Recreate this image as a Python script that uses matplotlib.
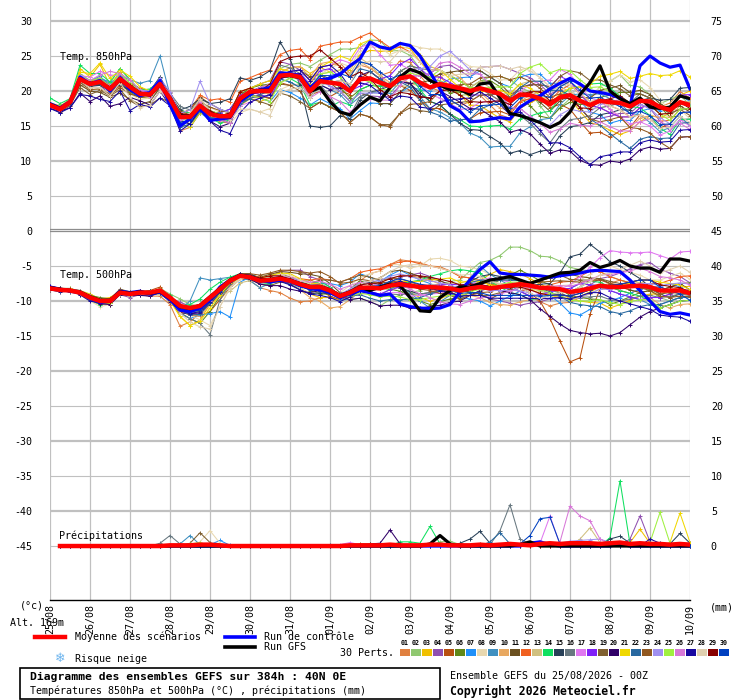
import numpy as np
import matplotlib
matplotlib.use("Agg")
from matplotlib import pyplot as plt
from matplotlib.lines import Line2D
from matplotlib.patches import Rectangle

W, H = 740, 700
MONO = "DejaVu Sans Mono"

# 6-hourly steps of the 384h run
hours = list(range(0, 385, 6))
day_labels = ["25/08", "26/08", "27/08", "28/08", "29/08", "30/08", "31/08", "01/09",
              "02/09", "03/09", "04/09", "05/09", "06/09", "07/09", "08/09", "09/09", "10/09"]

member_colors = ["#e08040", "#90c870", "#f0c000", "#9050b0", "#b85010", "#608818",
                 "#2090f8", "#e8d8b0", "#4090c0", "#e8a860", "#6b5020", "#f06020",
                 "#d0c080", "#10e060", "#284058", "#687880", "#e078f0", "#8020f8",
                 "#806030", "#300068", "#f0d800", "#2868a0", "#905820", "#a090f0",
                 "#a0f040", "#d878d8", "#1808a0", "#e0d0b0", "#880000", "#0040c0"]

# temperatures below are in tenths of a degree C
mean_850 = [180, 174, 184, 217, 210, 213, 203, 217, 206, 196, 195, 210, 189, 163, 163,
            179, 167, 164, 164, 189, 199, 200, 200, 222, 223, 220, 200, 214, 212, 210,
            200, 217, 218, 212, 207, 218, 221, 212, 205, 210, 207, 204, 200, 204, 200,
            196, 186, 195, 194, 189, 181, 191, 194, 186, 180, 186, 184, 183, 178, 186,
            185, 177, 173, 184, 180]
ctrl_850 = [182, 176, 185, 220, 210, 215, 200, 218, 202, 193, 198, 215, 180, 150, 160,
            175, 158, 160, 162, 185, 195, 202, 205, 226, 225, 222, 205, 216, 218, 224,
            236, 246, 270, 263, 260, 268, 265, 250, 227, 203, 179, 171, 156, 157, 160,
            162, 160, 177, 186, 193, 203, 211, 218, 210, 200, 198, 195, 190, 179, 236,
            250, 240, 234, 237, 203]
gfs_850 = [181, 175, 183, 216, 211, 212, 204, 216, 207, 197, 194, 209, 190, 165, 164,
           178, 168, 165, 163, 188, 198, 201, 201, 221, 222, 219, 199, 205, 185, 170,
           166, 180, 191, 186, 205, 220, 231, 226, 215, 208, 202, 202, 195, 210, 212,
           190, 168, 165, 160, 155, 148, 155, 170, 195, 212, 236, 200, 189, 182, 190,
           177, 175, 177, 193, 189]

p01_850 = [183,176,184,222,214,219,207,227,211,198,195,205,192,143,148,169,162,156,154,184,191,190,195,222,228,230,215,234,237,240,225,237,233,222,227,243,241,222,205,200,187,179,185,194,180,166,161,175,184,189,191,206,214,196,180,176,169,163,163,176,180,177,183,199,190]
p02_850 = [180,177,186,225,215,218,211,232,216,201,200,220,189,158,163,184,167,169,174,194,204,210,205,232,238,240,235,244,252,260,260,262,273,272,257,258,251,232,215,215,207,194,195,214,220,221,216,205,199,179,161,176,189,191,190,206,214,223,208,206,195,182,188,194,180]
p03_850 = [177,174,186,232,220,238,208,227,206,191,190,210,179,158,168,189,172,164,159,179,189,185,190,227,233,235,225,234,227,230,230,252,258,257,257,263,261,242,225,220,207,194,180,179,170,161,156,175,184,189,186,191,189,171,155,151,144,138,143,156,165,162,168,194,200]
p04_850 = [182,175,181,212,207,208,195,214,196,191,192,205,181,153,158,176,167,159,156,189,204,210,215,242,238,230,215,219,207,200,185,197,193,192,192,208,221,222,225,235,237,229,220,234,235,236,231,225,219,209,196,201,194,176,160,161,164,168,168,181,175,157,143,159,160]
p05_850 = [178,174,186,214,205,213,198,207,201,193,197,210,194,173,168,184,170,164,169,199,204,200,195,212,208,210,195,199,192,200,195,217,228,217,207,208,201,187,175,175,167,159,160,169,170,171,166,185,189,189,176,181,174,156,140,141,134,143,148,166,160,147,153,169,170]
p06_850 = [180,177,184,219,210,210,203,212,198,191,192,205,179,158,153,169,162,161,164,194,204,208,210,227,223,215,200,224,217,205,190,202,208,207,212,228,236,232,215,210,197,199,205,214,215,206,191,190,179,164,161,176,184,181,180,191,194,198,198,196,190,177,163,164,150]
p07_850 = [182,174,182,222,213,218,213,217,211,204,200,218,194,153,148,169,159,159,164,189,194,190,185,202,198,190,180,189,182,175,160,172,183,182,182,198,206,202,200,210,217,219,220,229,220,211,206,220,224,224,211,211,204,186,170,166,154,158,158,171,175,172,178,194,185]
p08_850 = [178,171,179,207,202,203,198,202,196,188,190,200,184,168,173,194,177,169,154,169,174,170,175,202,208,210,200,224,232,240,235,257,263,262,252,258,266,262,260,260,252,244,235,234,225,216,216,230,234,219,206,211,204,186,190,206,214,223,213,216,205,187,173,174,160]
p09_850 = [180,172,184,220,215,221,208,222,216,211,215,250,194,168,163,174,167,169,174,194,199,195,190,217,213,205,190,209,202,195,180,192,198,197,197,213,211,192,175,170,162,154,140,134,120,121,121,140,149,159,161,181,194,196,195,196,189,183,168,166,155,142,148,164,150]
p10_850 = [181,176,184,212,207,213,208,212,206,199,195,205,194,168,163,174,157,159,164,184,189,195,200,227,233,235,220,239,242,235,220,242,233,222,212,218,211,207,205,220,227,219,205,199,185,176,171,185,194,199,201,216,209,196,185,186,174,163,148,161,165,162,163,179,170]
p11_850 = [179,174,181,209,200,198,191,197,188,181,185,205,189,168,173,191,182,174,169,189,194,190,195,222,228,230,220,224,212,200,185,197,193,182,182,198,211,212,215,225,227,229,230,229,220,211,196,200,194,184,171,186,194,191,190,201,204,208,198,201,195,182,173,179,170]
p12_850 = [182,177,189,220,215,216,208,217,211,204,200,210,199,168,173,194,187,189,184,214,219,225,230,252,258,260,245,264,267,270,270,277,283,272,262,263,256,242,230,230,222,214,205,204,195,186,171,185,189,189,186,201,209,196,185,186,179,173,163,166,160,157,158,174,175]
p13_850 = [180,172,186,215,212,213,200,219,206,194,190,210,184,155,158,179,172,164,159,189,204,200,195,212,218,220,205,224,227,230,225,247,238,222,207,208,206,192,190,200,202,204,205,214,205,196,196,210,214,214,201,206,199,186,175,176,179,183,183,186,180,167,168,184,185]
p14_850 = [190,182,189,237,225,225,213,232,216,201,203,215,192,173,168,179,162,154,159,179,194,200,205,222,218,210,180,184,177,185,180,202,208,207,207,223,221,202,185,180,167,159,150,149,150,151,146,160,164,169,171,191,204,206,210,211,204,193,178,176,165,147,138,159,160]
p15_850 = [177,169,182,212,207,208,200,209,201,196,200,220,194,173,178,189,182,184,189,219,215,220,229,270,246,208,150,148,150,165,160,187,198,202,207,213,211,197,185,180,167,154,145,144,135,126,111,115,109,114,116,136,149,151,155,166,169,173,173,186,190,187,188,204,205]
p16_850 = [180,176,182,217,208,211,198,217,208,196,195,213,197,178,173,184,167,159,154,184,199,205,210,237,233,225,200,209,192,170,165,192,197,202,212,228,236,232,230,230,222,214,205,204,195,186,166,165,154,139,126,146,159,161,165,176,179,183,183,196,190,177,168,174,175]
p17_850 = [175,171,179,222,220,228,223,222,209,196,192,215,194,158,160,189,172,164,159,179,184,190,195,222,228,230,215,234,237,245,240,262,268,252,237,238,231,212,195,190,182,174,175,184,185,186,181,200,209,214,216,231,224,206,190,186,174,163,153,156,150,137,143,159,150]
p18_850 = [180,175,187,217,212,216,203,222,208,199,200,213,189,158,163,174,167,169,174,194,199,195,190,217,223,225,210,229,232,220,200,207,213,217,222,238,246,232,220,220,212,204,195,194,195,196,191,205,209,209,206,221,214,196,180,176,169,163,163,176,180,177,178,194,195]
p19_850 = [178,170,179,205,195,201,193,202,186,178,180,190,184,163,168,189,172,167,164,184,189,185,180,197,193,185,175,184,177,170,155,167,163,152,152,168,176,172,170,180,182,184,185,194,195,196,191,205,209,209,206,221,229,226,215,216,209,203,193,196,190,177,168,174,165]
p20_850 = [175,171,176,197,185,193,178,182,191,186,180,200,179,158,153,174,157,149,154,184,199,205,200,217,223,225,200,209,202,205,200,222,228,217,207,213,211,192,190,200,192,184,175,174,165,156,141,145,139,124,111,116,114,101,95,94,100,98,103,116,120,117,118,134,135]
p21_850 = [183,179,187,227,225,240,218,230,221,206,200,210,184,153,148,169,162,164,169,199,204,210,215,232,228,220,210,234,242,250,245,267,273,262,262,268,266,252,235,230,217,204,190,199,200,201,196,210,204,194,181,196,204,206,210,221,224,228,218,221,225,222,223,229,220]
p22_850 = [181,173,184,214,210,210,203,212,206,194,195,207,181,148,153,171,162,161,159,181,189,195,200,217,213,205,190,209,212,215,210,232,228,217,207,213,206,187,170,165,157,159,160,174,180,186,186,205,214,214,201,201,194,176,160,151,139,128,118,131,135,132,133,154,155]
p23_850 = [179,172,184,212,202,203,195,205,196,191,195,207,192,171,166,184,177,172,169,189,194,192,190,210,208,200,175,184,177,170,155,167,163,152,149,168,181,182,185,200,207,209,210,219,220,221,216,220,214,204,191,196,194,176,160,156,159,163,148,146,140,127,118,134,135]
p24_850 = [178,174,186,222,213,215,208,217,209,201,200,218,199,168,173,214,182,174,169,189,194,190,195,222,228,230,205,214,207,200,185,197,197,197,202,218,231,232,235,250,257,244,230,224,210,196,176,175,164,154,151,166,174,171,170,181,184,188,178,181,175,162,153,169,170]
p25_850 = [182,177,185,220,215,218,206,225,211,199,195,212,187,158,160,179,172,167,164,186,194,190,185,212,218,220,205,224,227,220,205,217,213,202,202,218,226,222,220,230,222,214,205,204,205,206,206,225,234,239,226,231,229,216,205,206,199,193,183,186,180,167,158,174,175]
p26_850 = [177,172,184,220,215,223,228,225,216,201,195,205,179,158,163,184,167,159,154,184,199,205,210,227,223,215,190,199,192,185,170,182,188,187,187,208,221,222,225,240,242,234,225,224,210,196,176,175,164,154,141,146,154,151,150,156,149,143,143,156,160,157,148,154,145]
p27_850 = [175,169,176,195,193,188,185,200,172,181,177,190,179,143,153,174,157,144,139,169,184,190,195,222,228,230,215,234,237,225,205,212,208,197,187,193,191,177,175,185,187,189,190,199,190,181,166,170,159,144,126,126,119,106,95,106,109,113,113,126,130,127,128,144,145]
p28_850 = [182,174,187,214,205,205,193,212,191,176,180,200,184,163,168,189,172,164,159,174,174,170,165,197,203,205,190,209,212,215,210,237,243,242,242,258,256,242,230,230,222,224,225,234,235,236,231,235,229,219,206,211,209,196,185,186,179,173,163,166,160,147,148,164,155]
p29_850 = [180,173,185,217,212,213,206,215,209,196,198,215,189,168,166,179,172,164,169,199,204,200,210,242,248,250,250,259,247,235,220,227,218,202,192,198,196,192,190,200,202,194,185,184,185,186,181,195,199,199,186,191,189,176,175,186,189,193,183,186,180,167,168,184,175]
p30_850 = [181,176,183,219,210,215,204,220,206,198,195,212,186,155,158,176,167,167,164,186,194,200,205,225,223,217,205,222,222,225,220,242,238,227,217,223,221,207,195,195,187,179,170,179,180,181,176,190,194,194,191,206,214,201,190,191,184,178,168,171,165,152,153,169,170]

mean_500 = [-82, -84, -85, -88, -95, -100, -100, -88, -90, -88, -88, -85, -95, -107, -110,
            -107, -95, -83, -71, -64, -66, -71, -70, -68, -71, -76, -80, -80, -85, -93,
            -88, -81, -81, -82, -78, -76, -78, -80, -80, -81, -82, -85, -82, -80, -82,
            -80, -78, -76, -78, -81, -82, -83, -87, -85, -82, -78, -80, -80, -79, -78,
            -80, -85, -85, -85, -89]
ctrl_500 = [-80, -83, -86, -88, -96, -102, -100, -86, -88, -86, -90, -87, -98, -113, -115,
            -110, -98, -80, -70, -63, -65, -70, -73, -70, -72, -78, -82, -84, -88, -95,
            -90, -85, -88, -92, -90, -104, -108, -110, -111, -110, -105, -87, -70, -55, -44,
            -60, -62, -62, -63, -64, -66, -64, -62, -60, -57, -56, -57, -58, -70, -85,
            -100, -115, -119, -117, -120]
gfs_500 = [-81, -83, -85, -87, -94, -99, -99, -87, -89, -87, -89, -86, -96, -108, -111,
           -106, -94, -82, -70, -63, -65, -70, -69, -67, -70, -75, -79, -79, -84, -92,
           -87, -80, -85, -80, -76, -78, -95, -114, -115, -95, -85, -80, -80, -75, -70,
           -68, -65, -70, -75, -70, -65, -60, -59, -56, -45, -52, -48, -42, -50, -53,
           -53, -59, -40, -40, -43]

p01_500 = [-79,-82,-85,-91,-100,-105,-103,-88,-92,-91,-93,-93,-105,-136,-130,-117,-100,-86,-73,-64,-71,-81,-85,-88,-96,-101,-100,-95,-95,-98,-88,-71,-61,-57,-48,-41,-43,-45,-50,-51,-57,-65,-67,-70,-77,-80,-83,-86,-93,-101,-107,-103,-102,-95,-87,-78,-75,-70,-74,-78,-85,-95,-90,-85,-84]
p02_500 = [-82,-82,-84,-88,-97,-103,-100,-85,-90,-86,-88,-82,-90,-97,-105,-107,-100,-93,-76,-64,-63,-66,-70,-73,-71,-71,-70,-75,-85,-98,-98,-96,-101,-107,-98,-91,-88,-85,-80,-76,-72,-70,-57,-45,-42,-35,-23,-23,-28,-36,-37,-43,-52,-55,-57,-58,-65,-70,-74,-78,-85,-95,-100,-95,-94]
p03_500 = [-84,-84,-83,-85,-90,-97,-95,-86,-90,-90,-88,-87,-95,-122,-135,-127,-105,-91,-76,-67,-66,-68,-65,-65,-71,-81,-90,-95,-95,-98,-88,-76,-71,-77,-78,-81,-88,-95,-100,-96,-92,-90,-82,-70,-62,-55,-58,-61,-68,-76,-82,-88,-97,-100,-102,-103,-110,-105,-99,-93,-90,-90,-85,-80,-79]
p04_500 = [-81,-84,-86,-90,-95,-98,-100,-91,-95,-91,-93,-88,-95,-102,-107,-107,-98,-88,-79,-69,-69,-71,-65,-58,-56,-56,-65,-70,-80,-93,-93,-91,-86,-82,-73,-66,-63,-60,-65,-71,-77,-85,-87,-90,-97,-100,-103,-106,-103,-101,-97,-93,-92,-85,-77,-68,-65,-60,-54,-48,-45,-55,-60,-65,-74]
p05_500 = [-82,-85,-85,-87,-93,-100,-98,-88,-87,-86,-85,-80,-95,-112,-118,-122,-115,-98,-81,-69,-69,-71,-67,-63,-68,-76,-83,-85,-93,-98,-93,-84,-81,-79,-73,-71,-75,-80,-83,-86,-90,-95,-87,-80,-77,-75,-78,-81,-88,-100,-125,-157,-187,-181,-119,-83,-80,-85,-89,-83,-80,-80,-85,-90,-89]
p06_500 = [-83,-83,-85,-86,-92,-95,-97,-88,-92,-88,-86,-85,-98,-117,-125,-132,-115,-93,-76,-64,-66,-68,-65,-60,-66,-76,-85,-90,-90,-93,-83,-71,-76,-82,-83,-86,-93,-100,-105,-101,-97,-95,-87,-80,-77,-70,-63,-56,-63,-71,-77,-83,-92,-95,-97,-98,-105,-100,-94,-88,-85,-85,-80,-75,-74]
p07_500 = [-82,-82,-82,-86,-95,-102,-100,-85,-88,-88,-90,-90,-100,-117,-125,-120,-118,-115,-123,-73,-66,-66,-67,-68,-74,-81,-80,-75,-75,-78,-73,-61,-66,-72,-63,-56,-63,-70,-75,-81,-87,-95,-97,-100,-107,-100,-93,-86,-83,-81,-92,-103,-117,-120,-112,-103,-100,-95,-89,-83,-80,-80,-75,-80,-89]
p08_500 = [-84,-84,-87,-91,-100,-108,-105,-88,-88,-88,-90,-88,-100,-115,-120,-127,-135,-108,-81,-69,-66,-66,-60,-63,-71,-81,-90,-85,-85,-88,-78,-66,-61,-57,-48,-48,-53,-50,-40,-39,-42,-50,-52,-55,-62,-65,-68,-71,-78,-86,-82,-78,-77,-70,-62,-53,-50,-55,-59,-63,-70,-70,-65,-60,-69]
p09_500 = [-80,-84,-84,-88,-97,-100,-98,-88,-93,-88,-86,-85,-98,-112,-100,-67,-70,-68,-66,-64,-71,-81,-75,-68,-66,-71,-77,-80,-88,-98,-98,-86,-81,-77,-78,-81,-88,-100,-110,-101,-92,-85,-67,-50,-62,-70,-78,-86,-93,-91,-87,-83,-82,-75,-77,-78,-85,-90,-94,-98,-105,-105,-100,-95,-94]
p10_500 = [-81,-85,-85,-87,-96,-103,-105,-90,-90,-86,-88,-83,-95,-112,-120,-122,-105,-88,-74,-64,-64,-66,-67,-68,-74,-84,-95,-100,-110,-108,-98,-86,-81,-73,-68,-64,-63,-68,-70,-76,-82,-90,-92,-95,-102,-105,-106,-101,-98,-96,-92,-88,-87,-80,-72,-68,-75,-80,-84,-88,-95,-105,-110,-105,-104]
p11_500 = [-82,-83,-83,-85,-93,-97,-99,-88,-88,-87,-87,-85,-97,-112,-113,-112,-98,-84,-71,-62,-63,-66,-62,-58,-59,-61,-62,-65,-75,-88,-88,-76,-71,-67,-58,-56,-60,-65,-68,-71,-77,-85,-87,-90,-97,-90,-83,-76,-73,-71,-67,-63,-62,-65,-67,-68,-75,-80,-84,-88,-85,-85,-80,-75,-84]
p12_500 = [-80,-83,-85,-89,-94,-98,-97,-87,-90,-86,-88,-88,-100,-115,-120,-119,-103,-88,-74,-64,-63,-66,-68,-68,-66,-68,-70,-68,-70,-73,-68,-59,-56,-54,-48,-44,-43,-47,-50,-53,-57,-65,-67,-70,-77,-80,-83,-86,-83,-81,-77,-73,-72,-65,-57,-58,-65,-70,-74,-78,-75,-75,-70,-65,-64]
p13_500 = [-82,-84,-84,-89,-95,-100,-102,-89,-93,-90,-91,-90,-97,-107,-107,-107,-100,-93,-86,-74,-71,-71,-67,-63,-68,-76,-83,-85,-88,-93,-85,-76,-78,-82,-81,-81,-81,-80,-77,-76,-74,-75,-70,-70,-74,-75,-75,-76,-81,-86,-90,-93,-99,-95,-90,-83,-83,-80,-76,-73,-77,-85,-88,-90,-92]
p14_500 = [-83,-83,-83,-88,-98,-105,-102,-88,-88,-88,-90,-85,-92,-107,-105,-97,-83,-73,-66,-61,-66,-74,-75,-71,-71,-73,-75,-72,-80,-93,-91,-86,-89,-92,-83,-76,-73,-70,-65,-61,-57,-55,-57,-60,-72,-80,-88,-91,-98,-96,-92,-88,-87,-80,-72,-73,-80,-85,-89,-93,-100,-110,-105,-100,-99]
p15_500 = [-82,-85,-87,-89,-95,-99,-100,-89,-90,-87,-86,-85,-98,-112,-113,-112,-105,-88,-71,-61,-61,-68,-70,-71,-76,-84,-90,-88,-90,-93,-85,-76,-73,-77,-78,-81,-86,-90,-88,-86,-82,-80,-72,-65,-62,-65,-68,-71,-78,-76,-75,-60,-37,-33,-19,-30,-44,-50,-59,-68,-80,-90,-95,-90,-89]
p16_500 = [-81,-84,-84,-86,-94,-101,-100,-86,-90,-89,-90,-88,-100,-117,-125,-132,-148,-98,-76,-64,-63,-71,-73,-73,-74,-76,-77,-75,-82,-93,-91,-86,-89,-92,-90,-91,-90,-90,-88,-86,-85,-85,-79,-75,-74,-70,-70,-71,-75,-81,-85,-88,-95,-95,-94,-93,-98,-100,-97,-93,-92,-95,-93,-90,-92]
p17_500 = [-83,-84,-84,-88,-93,-99,-98,-88,-92,-89,-88,-84,-97,-112,-118,-117,-103,-88,-73,-64,-68,-75,-72,-68,-69,-72,-74,-76,-83,-93,-90,-85,-87,-90,-88,-88,-93,-92,-90,-89,-87,-85,-77,-70,-67,-70,-73,-76,-83,-91,-87,-83,-77,-65,-52,-38,-28,-30,-31,-31,-30,-35,-40,-30,-29]
p18_500 = [-82,-85,-85,-87,-95,-100,-99,-86,-89,-88,-89,-87,-99,-113,-118,-115,-100,-85,-71,-62,-64,-71,-72,-72,-73,-76,-78,-76,-83,-93,-90,-85,-87,-90,-84,-80,-80,-80,-78,-77,-76,-77,-76,-76,-80,-80,-83,-86,-93,-91,-87,-83,-82,-75,-77,-78,-85,-90,-94,-98,-95,-95,-90,-85,-84]
p19_500 = [-81,-82,-84,-88,-94,-98,-97,-83,-87,-86,-87,-85,-97,-112,-115,-112,-100,-86,-73,-64,-68,-76,-78,-73,-73,-76,-75,-70,-70,-73,-68,-63,-66,-70,-68,-68,-73,-77,-80,-84,-87,-93,-92,-92,-92,-88,-83,-76,-73,-71,-67,-63,-69,-70,-70,-68,-72,-75,-76,-78,-83,-90,-88,-85,-86]
p20_500 = [-84,-87,-86,-88,-97,-104,-105,-91,-92,-92,-93,-88,-101,-117,-118,-117,-103,-88,-74,-65,-69,-76,-78,-78,-83,-86,-88,-85,-88,-93,-98,-96,-101,-107,-106,-106,-110,-110,-108,-106,-102,-100,-92,-85,-82,-85,-88,-91,-98,-111,-122,-133,-142,-145,-147,-146,-150,-145,-134,-123,-115,-110,-105,-100,-99]
p21_500 = [-81,-82,-82,-86,-94,-100,-101,-90,-91,-88,-88,-87,-100,-122,-135,-129,-110,-91,-74,-64,-64,-67,-64,-60,-61,-68,-74,-76,-83,-93,-90,-85,-83,-82,-76,-72,-72,-72,-70,-69,-67,-73,-72,-72,-77,-78,-78,-78,-83,-89,-92,-95,-97,-93,-87,-80,-80,-78,-74,-70,-70,-73,-75,-77,-84]
p22_500 = [-82,-83,-85,-89,-95,-99,-100,-89,-90,-87,-88,-86,-98,-113,-120,-119,-103,-87,-73,-64,-67,-73,-73,-70,-72,-76,-79,-78,-84,-93,-93,-91,-96,-100,-98,-98,-98,-95,-90,-86,-82,-80,-74,-70,-70,-70,-70,-71,-76,-81,-87,-93,-102,-105,-107,-108,-115,-118,-114,-108,-105,-105,-100,-95,-94]
p23_500 = [-83,-84,-86,-90,-96,-102,-103,-89,-90,-89,-90,-85,-93,-107,-112,-111,-97,-83,-69,-61,-61,-63,-60,-56,-56,-58,-60,-58,-65,-75,-73,-69,-71,-74,-73,-73,-78,-83,-85,-89,-92,-97,-92,-88,-87,-82,-78,-73,-73,-73,-72,-71,-72,-73,-72,-70,-75,-77,-79,-81,-85,-93,-95,-93,-94]
p24_500 = [-82,-83,-83,-85,-93,-99,-100,-87,-88,-87,-88,-86,-97,-110,-115,-112,-98,-84,-71,-63,-66,-72,-72,-71,-73,-77,-80,-79,-83,-90,-83,-74,-72,-71,-65,-61,-65,-69,-71,-74,-77,-82,-81,-81,-85,-85,-85,-85,-89,-94,-97,-96,-98,-94,-89,-83,-83,-81,-78,-75,-75,-78,-76,-74,-76]
p25_500 = [-81,-84,-84,-88,-96,-102,-103,-89,-90,-87,-88,-84,-95,-110,-116,-115,-101,-87,-73,-64,-65,-69,-69,-68,-72,-78,-83,-84,-88,-95,-93,-89,-91,-94,-93,-94,-98,-98,-95,-93,-92,-93,-87,-83,-82,-77,-73,-73,-78,-84,-88,-92,-99,-100,-100,-98,-102,-105,-101,-98,-98,-110,-105,-100,-99]
p26_500 = [-82,-83,-85,-89,-97,-101,-100,-87,-90,-89,-89,-87,-98,-111,-115,-113,-100,-86,-72,-64,-65,-69,-67,-64,-66,-70,-73,-72,-76,-83,-78,-73,-75,-78,-76,-76,-83,-90,-95,-101,-104,-105,-100,-95,-94,-90,-86,-81,-81,-81,-79,-78,-79,-75,-70,-63,-62,-60,-57,-53,-58,-65,-67,-70,-77]
p27_500 = [-79,-82,-85,-91,-100,-103,-102,-88,-89,-86,-88,-87,-99,-113,-118,-115,-101,-87,-73,-64,-66,-71,-72,-72,-77,-84,-90,-92,-95,-101,-94,-85,-83,-82,-76,-72,-76,-80,-82,-85,-88,-93,-92,-92,-96,-96,-96,-96,-96,-97,-96,-95,-97,-93,-88,-88,-95,-100,-104,-108,-112,-120,-122,-123,-129]
p28_500 = [-83,-86,-86,-88,-94,-100,-101,-90,-91,-88,-87,-85,-97,-117,-130,-137,-140,-108,-81,-67,-66,-69,-66,-62,-63,-70,-76,-78,-85,-95,-88,-76,-71,-67,-58,-51,-48,-48,-50,-53,-57,-63,-62,-65,-72,-75,-78,-81,-88,-96,-92,-88,-87,-80,-72,-63,-60,-55,-49,-43,-50,-60,-55,-50,-59]
p29_500 = [-82,-83,-83,-87,-95,-101,-102,-88,-89,-88,-89,-87,-98,-112,-114,-110,-97,-84,-71,-63,-64,-67,-64,-64,-69,-76,-82,-84,-87,-93,-86,-77,-75,-74,-68,-64,-64,-64,-66,-69,-72,-77,-76,-76,-80,-80,-80,-80,-84,-89,-92,-91,-93,-89,-84,-78,-78,-76,-73,-70,-70,-77,-79,-81,-87]
p30_500 = [-82,-85,-85,-87,-95,-100,-99,-88,-91,-88,-88,-86,-97,-111,-116,-113,-99,-85,-71,-62,-64,-70,-70,-69,-73,-79,-84,-85,-89,-96,-90,-81,-79,-78,-72,-68,-72,-76,-78,-81,-84,-89,-88,-88,-92,-92,-92,-92,-92,-93,-92,-91,-93,-89,-84,-78,-78,-76,-73,-70,-70,-80,-85,-90,-99]

# 6h precipitation (mm); first step has no value
mean_rr = [None, 0, 0, 0, 0, 0, 0, 0, 0, 0, 0, 0, 0.1, 0.1, 0.1, 0.2, 0.2, 0.1, 0, 0,
           0, 0, 0, 0, 0, 0, 0, 0, 0, 0, 0.1, 0.1, 0.1, 0.1, 0.2, 0.1, 0.1, 0.1, 0.2, 0.2,
           0.1, 0.1, 0.1, 0.2, 0.1, 0.2, 0.3, 0.2, 0.1, 0.3, 0.4, 0.3, 0.4, 0.4, 0.4,
           0.3, 0.4, 0.5, 0.3, 0.4, 0.3, 0.3, 0.2, 0.3, 0.2]
ctrl_rr_peaks = {48: 0.4, 49: 0.6, 50: 0.2, 57: 0.3}
gfs_rr_peaks = {38: 0.3, 39: 1.5, 40: 0.3, 47: 0.2, 48: 0.6}
# (member, step, mm) for every non-zero member value
member_rr_peaks = [
    (16, 11, 0.4), (16, 12, 1.5), (16, 13, 0.3), (9, 13, 0.3), (9, 14, 1.5), (9, 15, 0.2),
    (19, 14, 0.4), (19, 15, 1.9), (19, 16, 0.5), (8, 15, 0.6), (8, 16, 2.2), (8, 17, 0.4),
    (25, 14, 0.3), (25, 15, 0.5), (7, 16, 0.2), (7, 17, 0.8), (7, 18, 0.1), (22, 28, 0.2),
    (17, 29, 0.2), (17, 30, 0.5), (17, 31, 0.2), (26, 30, 0.3), (23, 31, 0.3), (23, 32, 0.3),
    (20, 32, 0.3), (20, 33, 0.4), (20, 34, 2.3), (20, 35, 0.3), (14, 35, 0.6), (14, 36, 0.6),
    (14, 37, 0.4), (14, 38, 2.8), (14, 39, 0.3), (2, 39, 0.6), (2, 40, 0.7), (2, 41, 0.2),
    (21, 40, 0.3), (21, 41, 0.2), (15, 41, 0.4), (15, 42, 1.0), (15, 43, 2.1), (15, 44, 0.4),
    (23, 43, 0.3), (23, 44, 0.2), (22, 44, 0.6), (22, 45, 1.9), (22, 46, 0.3), (16, 44, 0.2),
    (16, 45, 2.2), (16, 46, 5.9), (16, 47, 1.0), (16, 48, 0.3), (30, 47, 0.3), (30, 48, 1.5),
    (30, 49, 3.9), (30, 50, 4.1), (30, 51, 0.3), (17, 49, 0.4), (17, 50, 4.3), (17, 51, 0.2),
    (26, 51, 0.6), (26, 52, 5.7), (26, 53, 4.3), (26, 54, 3.6), (26, 55, 1.0), (26, 56, 0.2),
    (24, 51, 0.4), (24, 52, 0.7), (24, 53, 0.8), (24, 54, 0.9), (24, 55, 1.0), (24, 56, 0.5),
    (13, 53, 1.0), (13, 54, 2.6), (13, 55, 0.5), (18, 53, 0.3), (18, 54, 0.6), (14, 56, 1.2),
    (14, 57, 9.3), (14, 58, 0.3), (15, 56, 1.0), (15, 57, 1.4), (15, 58, 0.4), (3, 58, 0.5),
    (3, 59, 2.4), (3, 60, 0.4), (4, 58, 1.0), (4, 59, 4.3), (4, 60, 0.6), (27, 60, 1.0),
    (27, 61, 0.4), (25, 60, 0.5), (25, 61, 4.8), (25, 62, 0.4), (21, 62, 0.5), (21, 63, 4.7),
    (21, 64, 0.5), (15, 62, 0.3), (15, 63, 1.8), (15, 64, 0.4), (12, 36, 0.2), (10, 50, 0.3),
    (1, 52, 0.4), (6, 55, 0.3), (11, 47, 0.2), (29, 60, 0.3),
]

members_850 = [p01_850, p02_850, p03_850, p04_850, p05_850, p06_850, p07_850, p08_850,
               p09_850, p10_850, p11_850, p12_850, p13_850, p14_850, p15_850, p16_850,
               p17_850, p18_850, p19_850, p20_850, p21_850, p22_850, p23_850, p24_850,
               p25_850, p26_850, p27_850, p28_850, p29_850, p30_850]
members_500 = [p01_500, p02_500, p03_500, p04_500, p05_500, p06_500, p07_500, p08_500,
               p09_500, p10_500, p11_500, p12_500, p13_500, p14_500, p15_500, p16_500,
               p17_500, p18_500, p19_500, p20_500, p21_500, p22_500, p23_500, p24_500,
               p25_500, p26_500, p27_500, p28_500, p29_500, p30_500]

RR_BASE = -45  # precipitation zero sits on the -45 line


def rr_series(peaks):
    rr = np.zeros(len(hours))
    rr[0] = np.nan
    for step, mm in peaks.items():
        rr[step] = mm
    return rr + RR_BASE


def fx(x):
    return x / W


def fy(y):
    return 1 - y / H


x = np.array(hours)
fig = plt.figure(figsize=(W / 100, H / 100), dpi=100)
ax = fig.add_axes([fx(50), fy(600), 640 / W, 600 / H])
YLO, YHI = -52.71, 33.0
ax.set_xlim(0, 384)
ax.set_ylim(YLO, YHI)
for s in ["top", "left", "right"]:
    ax.spines[s].set_visible(False)
ax.spines["bottom"].set_linewidth(1.0)

# grid
for h in range(0, 385, 24):
    ax.axvline(h, color="#c0c0c0", lw=0.9, zorder=0)
for v in list(range(5, 31, 5)) + list(range(-45, 0, 5)):
    ax.axhline(v, color="#c0c0c0", lw=1.6 if v % 10 == 0 else 0.8, zorder=0)
ax.axhline(0.0, color="#8c8c8c", lw=0.9, zorder=0)
ax.axhline(0.27, color="#8c8c8c", lw=0.9, zorder=0)

mk = dict(lw=0.75, marker="+", ms=3, mew=0.7, zorder=2)

# members
for k in range(30):
    c = member_colors[k]
    ax.plot(x, np.array(members_850[k]) / 10, color=c, **mk)
    ax.plot(x, np.array(members_500[k]) / 10, color=c, **mk)
    peaks = {s: mm for (m, s, mm) in member_rr_peaks if m == k + 1}
    ax.plot(x, rr_series(peaks), color=c, **mk)

# control and GFS runs
for t850, t500, rr, col in [(ctrl_850, ctrl_500, ctrl_rr_peaks, "#0000ff"),
                            (gfs_850, gfs_500, gfs_rr_peaks, "#000000")]:
    ax.plot(x, np.array(t850) / 10, color=col, lw=2.3, zorder=3)
    ax.plot(x, np.array(t500) / 10, color=col, lw=2.3, zorder=3)
    ax.plot(x, rr_series(rr), color=col, lw=2.3, zorder=3)

# ensemble mean
ax.plot(x, np.array(mean_850) / 10, color="#ff0000", lw=3.2, zorder=4)
ax.plot(x, np.array(mean_500) / 10, color="#ff0000", lw=3.2, zorder=4)
ax.plot(x, np.array(mean_rr, dtype=float) + RR_BASE, color="#ff0000", lw=3.2, zorder=4)

# ticks
ax.set_xticks(range(0, 385, 24))
ax.set_xticklabels(day_labels, rotation=90, fontsize=7.2, family=MONO)
ax.tick_params(axis="x", length=0, pad=3)
left_vals = list(range(-45, 31, 5))
ax.set_yticks(left_vals)
ax.set_yticklabels([str(v) for v in left_vals], fontsize=7.2, family=MONO)
ax.tick_params(axis="y", length=0, pad=13)

ax2 = ax.twinx()
ax2.set_ylim(YLO + 45, YHI + 45)
right_vals = list(range(0, 76, 5))
ax2.set_yticks(right_vals)
ax2.set_yticklabels([str(v) for v in right_vals], fontsize=7.2, family=MONO)
ax2.tick_params(axis="y", length=0, pad=15)
for s in ax2.spines.values():
    s.set_visible(False)

# labels inside the plot
txt = dict(fontsize=7.2, family=MONO, va="center", ha="left")
fig.text(fx(60), fy(57), "Temp. 850hPa", **txt)
fig.text(fx(60), fy(275), "Temp. 500hPa", **txt)
fig.text(fx(59), fy(536), "Précipitations", **txt)

# texts around the axes
fig.text(fx(20), fy(606), "(°c)", **txt)
fig.text(fx(710), fy(607), "(mm)", **txt)
fig.text(fx(10), fy(623), "Alt. 169m", **txt)

# legend
fig.add_artist(Line2D([fx(35), fx(65)], [fy(637), fy(637)], color="#ff0000", lw=3.2))
fig.text(fx(75), fy(637), "Moyenne des scénarios", **txt)
fig.add_artist(Line2D([fx(225), fx(255)], [fy(637), fy(637)], color="#0000ff", lw=2.6))
fig.text(fx(264), fy(637), "Run de contrôle", **txt)
fig.add_artist(Line2D([fx(225), fx(255)], [fy(647), fy(647)], color="#000000", lw=2.6))
fig.text(fx(264), fy(647), "Run GFS", **txt)
fig.text(fx(60), fy(658), "\u2744", fontsize=9, color="#6cb4ee", family="DejaVu Sans",
         ha="center", va="center")
fig.text(fx(75), fy(659), "Risque neige", **txt)
fig.text(fx(340), fy(653), "30 Perts.", **txt)
for k in range(30):
    x0 = 400 + 11 * k
    fig.patches.append(Rectangle((fx(x0), fy(656)), 10 / W, 7 / H, transform=fig.transFigure,
                                 facecolor=member_colors[k], edgecolor="none"))
    fig.text(fx(x0 + 5), fy(643), "%02d" % (k + 1), fontsize=4.8, family=MONO,
             weight="bold", ha="center", va="center")

# title box
fig.patches.append(Rectangle((fx(20), fy(699)), 420 / W, 31 / H, transform=fig.transFigure,
                             facecolor="none", edgecolor="black", lw=1.2))
fig.text(fx(30), fy(677), "Diagramme des ensembles GEFS sur 384h : 40N 0E",
         fontsize=8.2, family=MONO, weight="bold", va="center", ha="left")
fig.text(fx(30), fy(691), "Températures 850hPa et 500hPa (°C) , précipitations (mm)", **txt)
fig.text(fx(450), fy(676), "Ensemble GEFS du 25/08/2026 - 00Z", **txt)
fig.text(fx(450), fy(691), "Copyright 2026 Meteociel.fr", fontsize=8.3, family=MONO,
         weight="bold", va="center", ha="left")

fig.savefig("out.png", dpi=100)
